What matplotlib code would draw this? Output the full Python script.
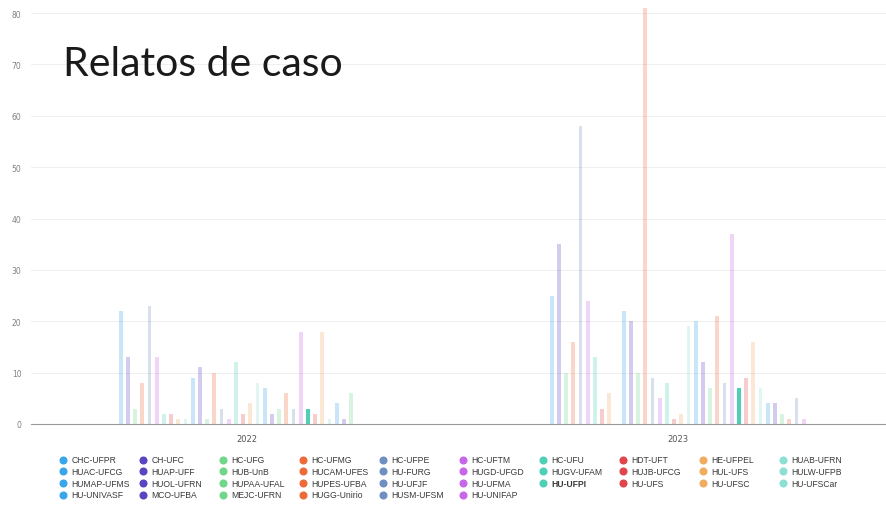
import matplotlib
matplotlib.use("Agg")
import matplotlib.pyplot as plt
from matplotlib.lines import Line2D
import numpy as np

years = ["2022", "2023"]
hospitals = [
    "CHC-UFPR", "CH-UFC", "HC-UFG", "HC-UFMG", "HC-UFPE", "HC-UFTM", "HC-UFU", "HDT-UFT", "HE-UFPEL", "HUAB-UFRN",
    "HUAC-UFCG", "HUAP-UFF", "HUB-UnB", "HUCAM-UFES", "HU-FURG", "HUGD-UFGD", "HUGV-UFAM", "HUJB-UFCG", "HUL-UFS", "HULW-UFPB",
    "HUMAP-UFMS", "HUOL-UFRN", "HUPAA-UFAL", "HUPES-UFBA", "HU-UFJF", "HU-UFMA", "HU-UFPI", "HU-UFS", "HU-UFSC", "HU-UFSCar",
    "HU-UNIVASF", "MCO-UFBA", "MEJC-UFRN", "HUGG-Unirio", "HUSM-UFSM", "HU-UNIFAP",
]
values_2022 = [22, 13, 3, 8, 23, 13, 2, 2, 1, 1,
               9, 11, 1, 10, 3, 1, 12, 2, 4, 8,
               7, 2, 3, 6, 3, 18, 3, 2, 18, 1,
               4, 1, 6, 0, 0, 0]
values_2023 = [25, 35, 10, 16, 58, 24, 13, 3, 6, 0,
               22, 20, 10, 81, 9, 5, 8, 1, 2, 19,
               20, 12, 7, 21, 8, 37, 7, 9, 16, 7,
               4, 4, 2, 1, 5, 1]
palette = ["#3aa6ea", "#5a44c2", "#6fd68a", "#ee6a38", "#6f8fc2",
           "#c866e8", "#4fd0b6", "#df4549", "#f0ac60", "#8ce0d3"]
highlight = "HU-UFPI"
title = "Relatos de caso"

W, H = 886, 510
fig = plt.figure(figsize=(W / 100, H / 100), dpi=100)
fig.patch.set_facecolor("white")

px_per_unit = 411 / 80.0
ymax = 81.5
ax_left = 31.2
ax_bottom = 85
ax = fig.add_axes([ax_left / W, ax_bottom / H, (W - ax_left) / W, ymax * px_per_unit / H])

band = 431.0
xmin = -0.5
xmax = xmin + (W - ax_left) / band
slot = 7.2 / band
bar_w = slot * 0.52

x = np.arange(len(years))
data = np.array([values_2022, values_2023])
n = len(hospitals)
for i, name in enumerate(hospitals):
    col = palette[i % len(palette)]
    offs = x + (i - (n - 1) / 2) * slot
    alpha = 1.0 if name == highlight else 0.27
    ax.bar(offs, data[:, i], width=bar_w, color=col, alpha=alpha, linewidth=0, zorder=3)

ax.set_xlim(xmin, xmax)
ax.set_ylim(0, ymax)
ax.set_yticks(np.arange(0, 81, 10))
ax.set_xticks(x)
ax.set_xticklabels(years)
ax.tick_params(axis="y", length=0, pad=7, labelsize=5.5, labelcolor="#808080")
ax.tick_params(axis="x", length=0, pad=7, labelsize=6, labelcolor="#555555")
ax.grid(axis="y", color="#efefef", linewidth=0.7, zorder=0)
ax.set_axisbelow(True)
for s in ["top", "right", "left"]:
    ax.spines[s].set_visible(False)
ax.spines["bottom"].set_color("#9a9a9a")
ax.spines["bottom"].set_linewidth(0.8)

fig.text(63 / W, 1 - 76 / H, title, fontsize=29.5, family="Lato", color="#1a1a1a",
         ha="left", va="baseline")

# legend (fixed-width columns, row-major)
for i, name in enumerate(hospitals):
    r, c = divmod(i, 10)
    mx = 63.3 + c * 80.0
    my = 460.7 + r * 11.7
    fig.add_artist(Line2D([mx / W], [1 - my / H], marker="o", markersize=4.8,
                          color=palette[i % len(palette)], linestyle="none",
                          transform=fig.transFigure))
    fig.text((mx + 8.4) / W, 1 - my / H, name, fontsize=6.2, family="Liberation Sans",
             color="#3a3a3a", va="center", ha="left",
             fontweight="bold" if name == highlight else "normal")

fig.savefig("out.png", dpi=100, facecolor="white")
